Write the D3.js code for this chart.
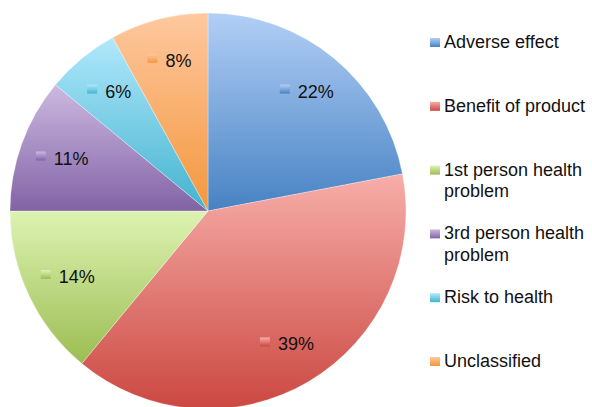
<!DOCTYPE html>
<html>
<head>
<meta charset="utf-8">
<script src="https://cdn.jsdelivr.net/npm/d3@7/dist/d3.min.js"></script>
<style>
  html, body { margin: 0; padding: 0; background: #fff; }
  svg { display: block; font-family: "Liberation Sans", Arial, Helvetica, sans-serif; }
</style>
</head>
<body>
<svg id="chart" width="592" height="407"></svg>
<script>
// Categories and their shares (percent), clockwise from 12 o'clock
const categories = ["Adverse effect", "Benefit of product", "1st person health problem",
                    "3rd person health problem", "Risk to health", "Unclassified"];
const shares = [22, 39, 14, 11, 6, 8];
// Legend text, wrapped the way it is printed
const legendLines = [["Adverse effect"], ["Benefit of product"], ["1st person health", "problem"],
                     ["3rd person health", "problem"], ["Risk to health"], ["Unclassified"]];

// Slice fill: vertical gradient, light at top to deeper at bottom
const lightColors = ["#b2cff6", "#f7aea9", "#ddf3b2", "#ccb9e1", "#b0e8fc", "#fec89f"];
const darkColors  = ["#4782c3", "#cb4841", "#9cbd53", "#8263a5", "#43b3ce", "#f4973d"];

const svg = d3.select("#chart");
const cx = 208, cy = 211, R = 198;

const defs = svg.append("defs");
categories.forEach((c, i) => {
  const g = defs.append("linearGradient")
    .attr("id", "grad" + i).attr("x1", 0).attr("y1", 0).attr("x2", 0).attr("y2", 1);
  g.append("stop").attr("offset", 0).attr("stop-color", lightColors[i]);
  g.append("stop").attr("offset", 1).attr("stop-color", darkColors[i]);
});

const pie = d3.pie().sort(null).value(d => d.value);
const arcs = pie(categories.map((c, i) => ({ name: c, value: shares[i], i })));
const arc = d3.arc().innerRadius(0).outerRadius(R);
const labelArc = d3.arc().innerRadius(155).outerRadius(155);

const gPie = svg.append("g").attr("transform", `translate(${cx},${cy})`);
gPie.selectAll("path.slice")
  .data(arcs)
  .join("path")
  .attr("class", "slice")
  .attr("d", arc)
  .attr("fill", d => `url(#grad${d.data.i})`)
  .attr("stroke", "#ffffff")
  .attr("stroke-opacity", 0.5)
  .attr("stroke-width", 0.6);

// Value labels with their colour key
const labels = gPie.selectAll("g.lab")
  .data(arcs)
  .join("g")
  .attr("class", "lab");

labels.each(function (d) {
  const g = d3.select(this);
  const [lx, ly] = labelArc.centroid(d);
  const t = g.append("text")
    .attr("font-size", 18)
    .attr("fill", "#111")
    .text(d.data.value + "%");
  const tw = t.node().getComputedTextLength();
  const total = 18 + tw;
  const x0 = lx - total / 2;
  const base = ly + 6;
  t.attr("x", x0 + 18).attr("y", base);
  g.insert("rect", "text")
    .attr("x", x0).attr("y", base - 13)
    .attr("width", 10).attr("height", 9)
    .attr("fill", `url(#grad${d.data.i})`);
});

// Legend
const legendY = d3.scaleLinear().domain([0, categories.length - 1]).range([48, 367]);
const gLeg = svg.append("g");
legendLines.forEach((lines, i) => {
  const y = legendY(i);
  gLeg.append("rect")
    .attr("x", 430).attr("y", y - 10)
    .attr("width", 10).attr("height", 9)
    .attr("fill", `url(#grad${i})`);
  const t = gLeg.append("text")
    .attr("x", 444).attr("y", y)
    .attr("font-size", 18)
    .attr("fill", "#111");
  lines.forEach((ln, k) => {
    t.append("tspan").attr("x", 444).attr("dy", k === 0 ? 0 : 21.5).text(ln);
  });
});
</script>
</body>
</html>
